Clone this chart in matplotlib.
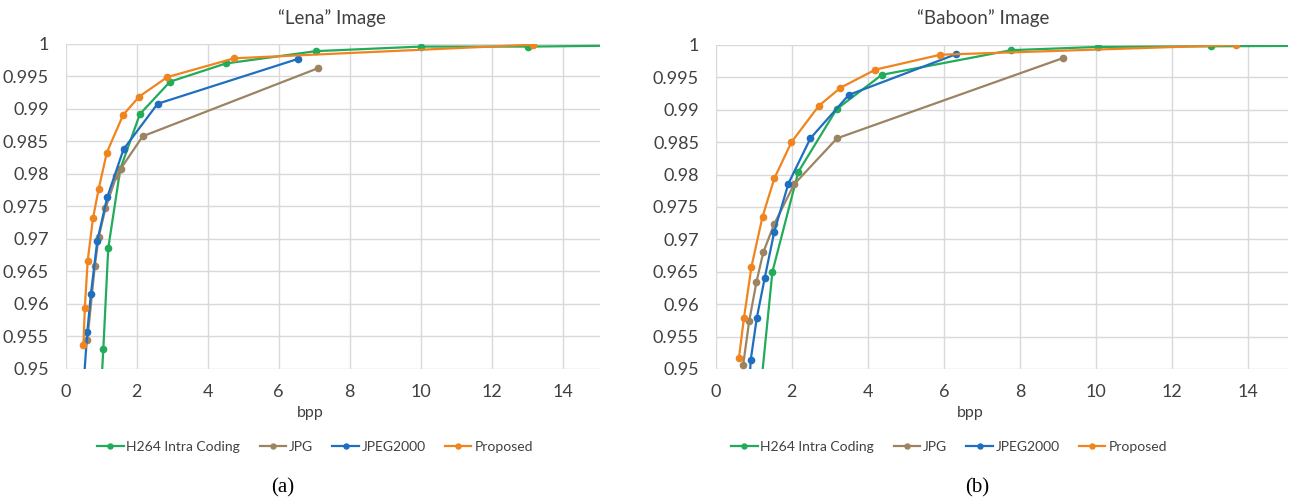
import matplotlib.pyplot as plt

# Lena (a)
lena_h264_x = [0.98, 1.06, 1.20, 1.54, 2.09, 2.94, 4.51, 7.05, 10.0, 13.03, 20.0]
lena_h264_y = [0.945, 0.9530, 0.9686, 0.9808, 0.9892, 0.9942, 0.9970, 0.9989, 0.9996, 0.9996, 1.0]
lena_jpg_x = [0.61, 0.82, 0.93, 1.12, 1.43, 1.55, 2.17, 7.12]
lena_jpg_y = [0.9544, 0.9658, 0.9703, 0.9747, 0.9797, 0.9808, 0.9858, 0.9963]
lena_j2k_x = [0.47, 0.61, 0.71, 0.89, 1.17, 1.63, 2.59, 6.54]
lena_j2k_y = [0.945, 0.9557, 0.9615, 0.9697, 0.9764, 0.9838, 0.9908, 0.9977]
lena_prop_x = [0.50, 0.54, 0.62, 0.77, 0.93, 1.16, 1.62, 2.07, 2.86, 4.75, 13.17]
lena_prop_y = [0.9537, 0.9594, 0.9666, 0.9732, 0.9777, 0.9833, 0.9891, 0.9919, 0.9949, 0.9978, 0.9999]

# Baboon (b)
bab_h264_x = [1.15, 1.49, 2.17, 3.18, 4.37, 7.77, 10.04, 13.03, 20.0]
bab_h264_y = [0.945, 0.9650, 0.9804, 0.9901, 0.9954, 0.9992, 0.9997, 0.9998, 1.0]
bab_jpg_x = [0.72, 0.88, 1.07, 1.25, 1.54, 2.06, 3.19, 9.14]
bab_jpg_y = [0.9506, 0.9574, 0.9634, 0.9680, 0.9724, 0.9785, 0.9856, 0.9980]
bab_j2k_x = [0.86, 0.92, 1.08, 1.29, 1.54, 1.91, 2.49, 3.50, 6.33]
bab_j2k_y = [0.945, 0.9514, 0.9579, 0.9641, 0.9712, 0.9786, 0.9856, 0.9923, 0.9986]
bab_prop_x = [0.61, 0.74, 0.94, 1.23, 1.54, 1.99, 2.71, 3.28, 4.20, 5.91, 13.67]
bab_prop_y = [0.9517, 0.9578, 0.9658, 0.9735, 0.9794, 0.9850, 0.9906, 0.9934, 0.9962, 0.9985, 1.0]

labels = ["H264 Intra Coding", "JPG", "JPEG2000", "Proposed"]
colors = ["#22ab5a", "#9c8462", "#1f6fc0", "#f0841f"]

plt.rcParams["font.family"] = ["Lato", "DejaVu Sans"]
txt = "#404040"

fig = plt.figure(figsize=(12.95, 5.01), dpi=100)
ax1 = fig.add_axes([0.0507, 0.2635, 0.4126, 0.6487])
ax2 = fig.add_axes([0.5527, 0.2635, 0.4419, 0.6467])

# figure-x centres (px) of title, axis label, legend, panel tag
panels = [
    (ax1, "\u201cLena\u201d Image", "(a)", 332, 310, 315, 283,
     [(lena_h264_x, lena_h264_y), (lena_jpg_x, lena_jpg_y),
      (lena_j2k_x, lena_j2k_y), (lena_prop_x, lena_prop_y)]),
    (ax2, "\u201cBaboon\u201d Image", "(b)", 983, 970, 949, 977,
     [(bab_h264_x, bab_h264_y), (bab_jpg_x, bab_jpg_y),
      (bab_j2k_x, bab_j2k_y), (bab_prop_x, bab_prop_y)]),
]

W = 1295.0
for ax, title, tag, tx, bx, lx, gx, series in panels:
    for (xs, ys), lab, c in zip(series, labels, colors):
        ax.plot(xs, ys, "-o", color=c, lw=1.6, ms=4.5, label=lab)
    ax.set_xlim(0, 15.05)
    ax.set_ylim(0.95, 1.0)
    ax.set_xticks(range(0, 15, 2))
    ax.set_yticks([0.95, 0.955, 0.96, 0.965, 0.97, 0.975, 0.98, 0.985, 0.99, 0.995, 1.0])
    ax.set_yticklabels(["0.95", "0.955", "0.96", "0.965", "0.97", "0.975",
                        "0.98", "0.985", "0.99", "0.995", "1"])
    ax.grid(True, color="#d9d9d9", lw=1.0)
    ax.set_axisbelow(True)
    for s in ax.spines.values():
        s.set_visible(False)
    ax.tick_params(length=0, labelsize=13, colors=txt)
    ax.tick_params(axis="x", pad=11)
    ax.tick_params(axis="y", pad=12)
    fig.text(tx / W, 0.964, title, ha="center", va="center", fontsize=13.5, color=txt)
    fig.text(bx / W, 0.1756, "bpp", ha="center", va="center", fontsize=11.5, color=txt)
    handles, labs = ax.get_legend_handles_labels()
    fig.legend(handles, labs, loc="center", bbox_to_anchor=(lx / W, 0.1078), ncol=4,
               frameon=False, fontsize=10, labelcolor=txt, handlelength=1.9,
               handletextpad=0.2, columnspacing=1.4, markerscale=0.8)
    fig.text(gx / W, 0.026, tag, ha="center", va="center",
             fontsize=15, family="Liberation Serif", color="black")

fig.savefig("out.png", dpi=100)
